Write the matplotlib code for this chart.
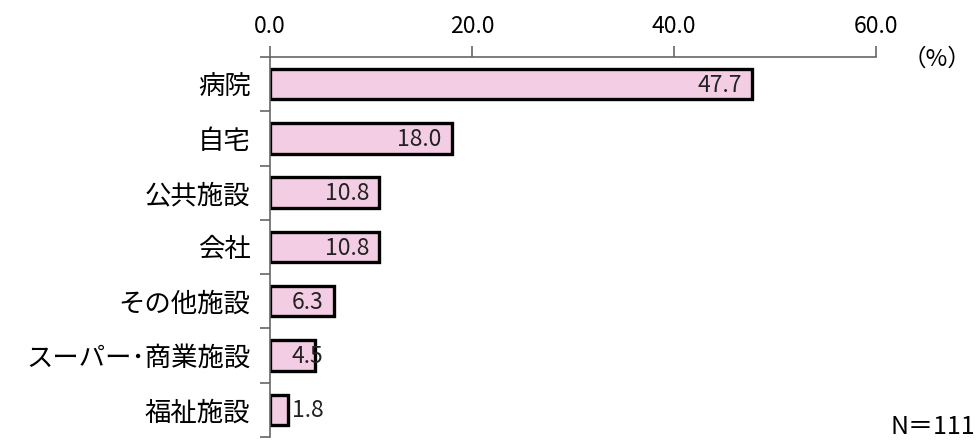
import numpy as np
import matplotlib.pyplot as plt
import matplotlib.ticker as plticker

plt.rcParams['font.family'] = ['Noto Sans CJK JP', 'DejaVu Sans']

places = ['病院', '自宅', '公共施設', '会社', 'その他施設', 'スーパー･商業施設', '福祉施設']
shares = [47.7, 18.0, 10.8, 10.8, 6.3, 4.5, 1.8]

fig = plt.figure(figsize=(9.78, 4.45), dpi=100)
ax = fig.add_axes([0.276, 0.018, 0.62, 0.854])

pos = np.arange(len(places))
ax.barh(pos, shares, height=0.56, color='#f3cde3', edgecolor='black', linewidth=2.4)

# value labels sit just inside the bar end; short bars share one right edge
for y, v in zip(pos, shares):
    ax.text(max(v, 6.3) - 1.0, y + 0.02, f'{v:.1f}', ha='right', va='center',
            fontsize=16.5, color='#222222')

ax.set_xlim(0, 60)
ax.set_ylim(len(places) - 0.5, -0.5)
ax.xaxis.set_major_locator(plticker.MultipleLocator(20))
ax.xaxis.set_major_formatter(plticker.FormatStrFormatter('%.1f'))
ax.xaxis.tick_top()
ax.tick_params(axis='x', direction='out', length=8, width=1.2, color='#666666',
               labelsize=16.5, pad=6)

ax.set_yticks(pos)
ax.set_yticklabels(places, fontsize=19)
ax.set_yticks(np.arange(len(places) + 1) - 0.5, minor=True)
ax.tick_params(axis='y', which='major', length=0, pad=14)
ax.tick_params(axis='y', which='minor', direction='out', length=7, width=1.2, color='#666666')

for side in ['right', 'bottom']:
    ax.spines[side].set_visible(False)
for side in ['top', 'left']:
    ax.spines[side].set_color('#666666')
    ax.spines[side].set_linewidth(1.2)

fig.text(0.958, 0.866, '（%）', ha='center', va='center', fontsize=17)
fig.text(0.997, 0.04, 'N＝111', ha='right', va='center', fontsize=18)

fig.savefig('out.png', dpi=100)
